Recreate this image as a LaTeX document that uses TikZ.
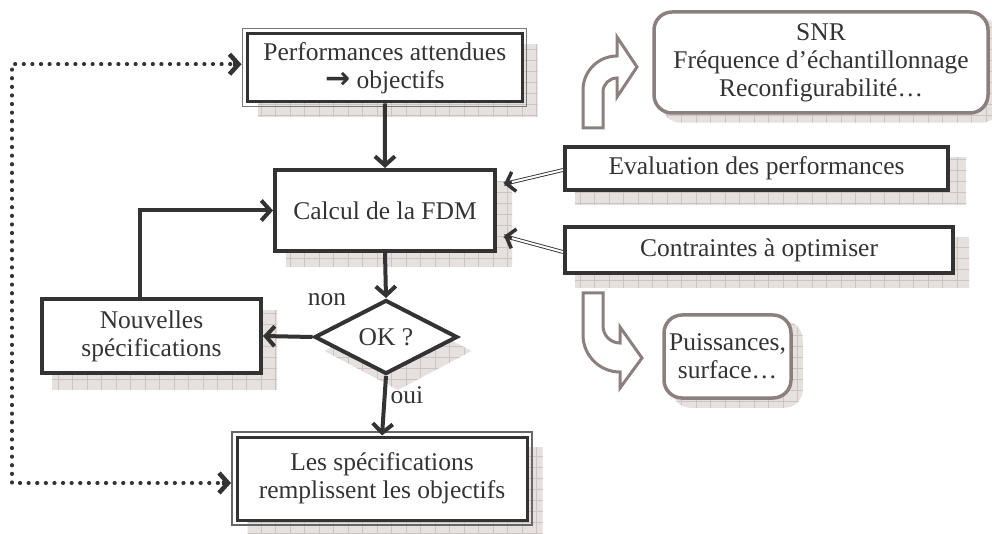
\documentclass[tikz,border=0pt]{standalone}
\usepackage{fontspec}
\setmainfont{Liberation Serif}
\newfontfamily\arrfont{DejaVu Sans}
\usetikzlibrary{arrows.meta,shapes.geometric,calc}
\pgfdeclarelayer{bg}
\pgfsetlayers{bg,main}
\definecolor{dk}{HTML}{333333}
\definecolor{brn}{HTML}{8C807E}
\definecolor{shf}{HTML}{E6E0DF}
\definecolor{shg}{HTML}{CCC4C3}
\newcommand\mkshadow[1]{%
  \begin{pgfonlayer}{bg}\begin{scope}
    \clip #1;
    \fill[shf] (0,0) rectangle (992,533);
    \draw[shg,line width=0.5pt] (0,0) grid[xstep=14.5,ystep=11] (992,533);
  \end{scope}\end{pgfonlayer}}
\tikzset{
  box/.style={draw=dk, line width=4pt, fill=white, text=dk, align=center,
    inner sep=0pt, font=\fontsize{25.5}{28}\selectfont},
  dblbox/.style={box, line width=3pt},
  rbox/.style={box, draw=brn, line width=3.5pt, rounded corners=18pt},
  arr/.style={draw=dk, line width=4pt, -{Straight Barb[length=9pt,width=20pt]}},
  dbl/.style={draw=dk, line width=0.9pt, double=white, double distance=2pt},
  dbltip/.style={draw=dk, line width=3.5pt, -{Straight Barb[length=8pt,width=20pt]}},
  dots/.style={draw=dk, line width=3.6pt, line cap=round, dash pattern=on 0.6pt off 8pt},
  dottip/.style={draw=dk, line width=4.5pt, -{Straight Barb[length=9pt,width=20pt]}},
  hollow/.style={draw=brn, line width=3pt, fill=white, line join=miter},
  lbl/.style={text=dk, font=\fontsize{25.5}{28}\selectfont, inner sep=0pt}
}
\begin{document}
\begin{tikzpicture}[x=1pt,y=1pt]
\useasboundingbox (0,0) rectangle (992,533);

% nodes
\node[dblbox, minimum width=274.5, minimum height=68.5] (top) at (384.75,465.25) {Performances attendues\\{\arrfont\bfseries\fontsize{30}{28}\selectfont →} objectifs};
\node[box, minimum width=220, minimum height=81] (calc) at (385,322.5) {Calcul de la FDM};
\node[box, diamond, minimum width=143, minimum height=74] (ok) at (386,196) {OK ?};
\node[box, minimum width=219, minimum height=74] (nouv) at (151.5,197) {Nouvelles\\spécifications};
\node[dblbox, minimum width=290, minimum height=83] (les) at (382,54.5) {Les spécifications\\remplissent les objectifs};
\node[box, minimum width=383, minimum height=43] (eval) at (756.5,364.5) {Evaluation des performances};
\node[box, minimum width=388, minimum height=46] (contr) at (759,283) {Contraintes à optimiser};
\node[rbox, minimum width=334, minimum height=101] (snr) at (821,470.5) {SNR\\Fréquence d’échantillonnage\\Reconfigurabilité…};
\node[rbox, minimum width=127, minimum height=83] (puis) at (727.5,176.5) {Puissances,\\surface…};

% outer thin lines of the double borders
\draw[dk!65, line width=1.3pt] ($(top.south west)+(-3.3,-3.3)$) rectangle ($(top.north east)+(3.3,3.3)$);
\draw[dk!75, line width=1.3pt] ($(les.south west)+(-3.5,-3.5)$) rectangle ($(les.north east)+(3.5,3.5)$);

% shadows
\mkshadow{($(top.south west)+(12,-13)$) rectangle ($(top.north east)+(14,-13)$)}
\mkshadow{($(calc.south west)+(13,-14)$) rectangle ($(calc.north east)+(15,-14)$)}
\mkshadow{($(nouv.south west)+(12,-14)$) rectangle ($(nouv.north east)+(14,-14)$)}
\mkshadow{($(les.south west)+(12,-12)$) rectangle ($(les.north east)+(14,-12)$)}
\mkshadow{($(eval.south west)+(12,-13)$) rectangle ($(eval.north east)+(16,-13)$)}
\mkshadow{($(contr.south west)+(12,-13)$) rectangle ($(contr.north east)+(14,-13)$)}
\mkshadow{($(ok.north)+(12,-14)$) -- ($(ok.east)+(12,-14)$) -- ($(ok.south)+(12,-14)$) -- ($(ok.west)+(12,-14)$) -- cycle}
\mkshadow{[rounded corners=18pt] ($(snr.south west)+(10,-8)$) rectangle ($(snr.north east)+(10,-8)$)}
\mkshadow{[rounded corners=18pt] ($(puis.south west)+(10,-8)$) rectangle ($(puis.north east)+(10,-8)$)}

% main connectors
\draw[arr] (top.south) -- (calc.north);
\draw[arr] (calc.south) -- (ok.north);
\draw[arr] (ok.west) -- (nouv.east);
\draw[arr] (ok.south) -- (les.north);
\coordinate (nx) at (140,0);
\draw[arr] (nx |- nouv.north) |- (calc.west);
\node[lbl] (non) at (327,233) {non};
\node[lbl] (oui) at (407,138) {oui};

% double-line connectors
\coordinate (t1) at ($(calc.east)+(7,26.5)$);
\coordinate (t2) at ($(calc.east)+(7,-25.5)$);
\draw[dbl] ($(eval.west)+(0,-1.5)$) -- (t1);
\draw[dbl] ($(contr.west)+(0,-2)$) -- (t2);
\draw[dbltip] ($(t1)!8pt!($(eval.west)+(0,-1.5)$)$) -- (t1);
\draw[dbltip] ($(t2)!8pt!($(contr.west)+(0,-2)$)$) -- (t2);

% dotted feedback
\coordinate (dl) at (12,0);
\coordinate (s1) at ($(top.west)+(-4.5,3.5)$);
\coordinate (s2) at ($(les.west)+(-4.5,-4.5)$);
\draw[dots] ($(s1)+(-11,0)$) -- (s1 -| dl) -- (s2 -| dl) -- ($(s2)+(-11,0)$);
\draw[dottip] ($(s1)+(-9,0)$) -- (s1);
\draw[dottip] ($(s2)+(-9,0)$) -- (s2);

% hollow bent arrows
\draw[hollow] (583,405) -- (583,443) arc[start angle=180,end angle=90,radius=34]
  -- (617,496) -- (637,466) -- (617,436) -- (617,455)
  arc[start angle=90,end angle=180,radius=14] -- (603,405) -- cycle;
\draw[hollow] (583,240) -- (583,198) arc[start angle=180,end angle=270,radius=37]
  -- (620,145) -- (642,175) -- (620,206) -- (620,190)
  arc[start angle=270,end angle=180,radius=17] -- (603,240) -- cycle;
\end{tikzpicture}
\end{document}
